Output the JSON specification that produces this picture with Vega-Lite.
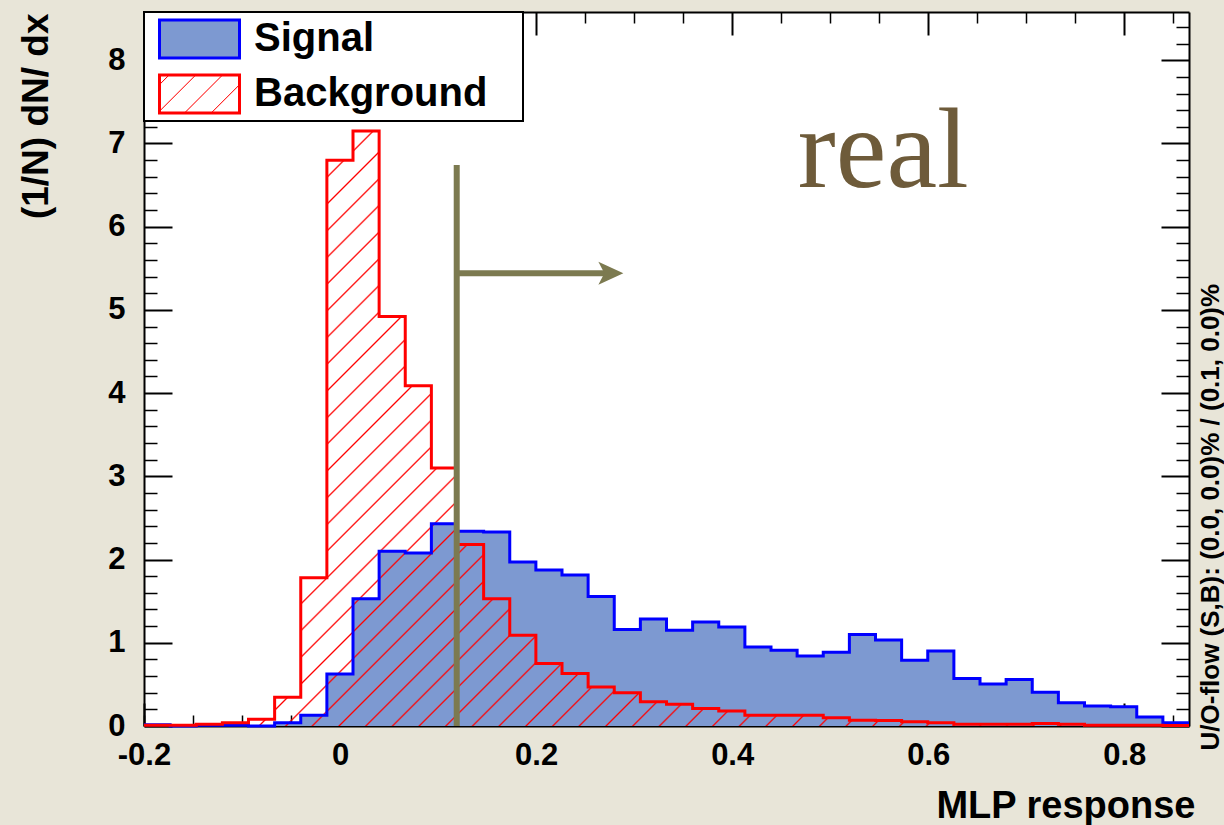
{
"$schema": "https://vega.github.io/schema/vega-lite/v6.json",
"width": 1045,
"height": 714,
"autosize": {"type": "none"},
"padding": {"left": 144, "top": 12, "right": 35, "bottom": 99},
"background": "#e8e5d8",
"data": {"values": [
{"x":-0.2,"sig":0.015,"bkg":0.01},
{"x":-0.17335,"sig":0,"bkg":0.01},
{"x":-0.1467,"sig":0.01,"bkg":0.02},
{"x":-0.12005,"sig":0.01,"bkg":0.04},
{"x":-0.0934,"sig":0,"bkg":0.08},
{"x":-0.06675,"sig":0.04,"bkg":0.345},
{"x":-0.0401,"sig":0.13,"bkg":1.78},
{"x":-0.01345,"sig":0.625,"bkg":6.8},
{"x":0.0132,"sig":1.53,"bkg":7.15},
{"x":0.03985,"sig":2.1,"bkg":4.92},
{"x":0.0665,"sig":2.08,"bkg":4.09},
{"x":0.09315,"sig":2.43,"bkg":3.1},
{"x":0.1198,"sig":2.34,"bkg":2.18},
{"x":0.14645,"sig":2.33,"bkg":1.53},
{"x":0.1731,"sig":1.97,"bkg":1.09},
{"x":0.19975,"sig":1.875,"bkg":0.75},
{"x":0.2264,"sig":1.815,"bkg":0.63},
{"x":0.25305,"sig":1.555,"bkg":0.47},
{"x":0.2797,"sig":1.16,"bkg":0.4},
{"x":0.30635,"sig":1.286,"bkg":0.29},
{"x":0.333,"sig":1.15,"bkg":0.26},
{"x":0.35965,"sig":1.25,"bkg":0.21},
{"x":0.3863,"sig":1.19,"bkg":0.18},
{"x":0.41295,"sig":0.95,"bkg":0.13},
{"x":0.4396,"sig":0.91,"bkg":0.13},
{"x":0.46625,"sig":0.84,"bkg":0.13},
{"x":0.4929,"sig":0.885,"bkg":0.1},
{"x":0.51955,"sig":1.1,"bkg":0.07},
{"x":0.5462,"sig":1.034,"bkg":0.065},
{"x":0.57285,"sig":0.79,"bkg":0.05},
{"x":0.5995,"sig":0.9,"bkg":0.04},
{"x":0.62615,"sig":0.57,"bkg":0.02},
{"x":0.6528,"sig":0.505,"bkg":0.02},
{"x":0.67945,"sig":0.56,"bkg":0.02},
{"x":0.7061,"sig":0.405,"bkg":0.03},
{"x":0.73275,"sig":0.28,"bkg":0.02},
{"x":0.7594,"sig":0.24,"bkg":0.01},
{"x":0.78605,"sig":0.23,"bkg":0.01},
{"x":0.8127,"sig":0.108,"bkg":0.01},
{"x":0.83935,"sig":0.04,"bkg":0.005},
{"x":0.866,"sig":0.04,"bkg":0.005}
]},
"resolve": {"axis": {"x": "independent", "y": "independent"}},
"layer": [
{
"mark": {"type": "area", "interpolate": "step-after", "fill": "#7d99d1", "opacity": 1},
"encoding": {
"x": {"field": "x", "type": "quantitative", "scale": {"domain": [-0.2, 0.866], "nice": false, "zero": false},
 "axis": {"orient": "bottom", "values": [-0.2,0,0.2,0.4,0.6,0.8], "tickSize": -23, "tickWidth": 2, "labelPadding": 37,
  "labelExpr": "datum.value == 0 ? '0' : (datum.value < 0 ? '-' : '') + format(abs(datum.value), '.1f')",
  "title": "MLP response", "titleFontSize": 38, "titleAlign": "right", "titleBaseline": "alphabetic", "titleX": 1051, "titleY": 91, "titleAngle": 0}},
"y": {"field": "sig", "type": "quantitative", "scale": {"domain": [0, 8.58], "nice": false},
 "axis": {"orient": "left", "values": [0,1,2,3,4,5,6,7,8], "tickSize": -28, "tickWidth": 2, "labelPadding": 47,
  "title": "(1/N) dN/ dx", "titleFontSize": 37, "titleAngle": 270, "titleAlign": "right", "titleBaseline": "middle", "titleX": -108, "titleY": 1}}
}
},
{
"mark": {"type": "area", "interpolate": "step-after", "opacity": 1,
 "fill": {"gradient": "linear", "x1": 0, "y1": 0, "x2": 1.1852, "y2": 0.6748, "stops": [
 {"offset":0,"color":"rgba(255,0,0,0)"},
 {"offset":0.0085,"color":"rgba(255,0,0,0)"},{"offset":0.0096,"color":"#ff0000"},{"offset":0.0107,"color":"rgba(255,0,0,0)"},
 {"offset":0.0248,"color":"rgba(255,0,0,0)"},{"offset":0.0259,"color":"#ff0000"},{"offset":0.0270,"color":"rgba(255,0,0,0)"},
 {"offset":0.0411,"color":"rgba(255,0,0,0)"},{"offset":0.0422,"color":"#ff0000"},{"offset":0.0433,"color":"rgba(255,0,0,0)"},
 {"offset":0.0573,"color":"rgba(255,0,0,0)"},{"offset":0.0584,"color":"#ff0000"},{"offset":0.0595,"color":"rgba(255,0,0,0)"},
 {"offset":0.0736,"color":"rgba(255,0,0,0)"},{"offset":0.0747,"color":"#ff0000"},{"offset":0.0758,"color":"rgba(255,0,0,0)"},
 {"offset":0.0899,"color":"rgba(255,0,0,0)"},{"offset":0.0910,"color":"#ff0000"},{"offset":0.0921,"color":"rgba(255,0,0,0)"},
 {"offset":0.1062,"color":"rgba(255,0,0,0)"},{"offset":0.1073,"color":"#ff0000"},{"offset":0.1084,"color":"rgba(255,0,0,0)"},
 {"offset":0.1225,"color":"rgba(255,0,0,0)"},{"offset":0.1236,"color":"#ff0000"},{"offset":0.1247,"color":"rgba(255,0,0,0)"},
 {"offset":0.1387,"color":"rgba(255,0,0,0)"},{"offset":0.1398,"color":"#ff0000"},{"offset":0.1409,"color":"rgba(255,0,0,0)"},
 {"offset":0.1550,"color":"rgba(255,0,0,0)"},{"offset":0.1561,"color":"#ff0000"},{"offset":0.1572,"color":"rgba(255,0,0,0)"},
 {"offset":0.1713,"color":"rgba(255,0,0,0)"},{"offset":0.1724,"color":"#ff0000"},{"offset":0.1735,"color":"rgba(255,0,0,0)"},
 {"offset":0.1876,"color":"rgba(255,0,0,0)"},{"offset":0.1887,"color":"#ff0000"},{"offset":0.1898,"color":"rgba(255,0,0,0)"},
 {"offset":0.2039,"color":"rgba(255,0,0,0)"},{"offset":0.2050,"color":"#ff0000"},{"offset":0.2061,"color":"rgba(255,0,0,0)"},
 {"offset":0.2201,"color":"rgba(255,0,0,0)"},{"offset":0.2212,"color":"#ff0000"},{"offset":0.2223,"color":"rgba(255,0,0,0)"},
 {"offset":0.2364,"color":"rgba(255,0,0,0)"},{"offset":0.2375,"color":"#ff0000"},{"offset":0.2386,"color":"rgba(255,0,0,0)"},
 {"offset":0.2527,"color":"rgba(255,0,0,0)"},{"offset":0.2538,"color":"#ff0000"},{"offset":0.2549,"color":"rgba(255,0,0,0)"},
 {"offset":0.2690,"color":"rgba(255,0,0,0)"},{"offset":0.2701,"color":"#ff0000"},{"offset":0.2712,"color":"rgba(255,0,0,0)"},
 {"offset":0.2853,"color":"rgba(255,0,0,0)"},{"offset":0.2864,"color":"#ff0000"},{"offset":0.2875,"color":"rgba(255,0,0,0)"},
 {"offset":0.3015,"color":"rgba(255,0,0,0)"},{"offset":0.3026,"color":"#ff0000"},{"offset":0.3037,"color":"rgba(255,0,0,0)"},
 {"offset":0.3178,"color":"rgba(255,0,0,0)"},{"offset":0.3189,"color":"#ff0000"},{"offset":0.3200,"color":"rgba(255,0,0,0)"},
 {"offset":0.3341,"color":"rgba(255,0,0,0)"},{"offset":0.3352,"color":"#ff0000"},{"offset":0.3363,"color":"rgba(255,0,0,0)"},
 {"offset":0.3504,"color":"rgba(255,0,0,0)"},{"offset":0.3515,"color":"#ff0000"},{"offset":0.3526,"color":"rgba(255,0,0,0)"},
 {"offset":0.3667,"color":"rgba(255,0,0,0)"},{"offset":0.3678,"color":"#ff0000"},{"offset":0.3689,"color":"rgba(255,0,0,0)"},
 {"offset":0.3829,"color":"rgba(255,0,0,0)"},{"offset":0.3840,"color":"#ff0000"},{"offset":0.3851,"color":"rgba(255,0,0,0)"},
 {"offset":0.3992,"color":"rgba(255,0,0,0)"},{"offset":0.4003,"color":"#ff0000"},{"offset":0.4014,"color":"rgba(255,0,0,0)"},
 {"offset":0.4155,"color":"rgba(255,0,0,0)"},{"offset":0.4166,"color":"#ff0000"},{"offset":0.4177,"color":"rgba(255,0,0,0)"},
 {"offset":0.4318,"color":"rgba(255,0,0,0)"},{"offset":0.4329,"color":"#ff0000"},{"offset":0.4340,"color":"rgba(255,0,0,0)"},
 {"offset":0.4481,"color":"rgba(255,0,0,0)"},{"offset":0.4492,"color":"#ff0000"},{"offset":0.4503,"color":"rgba(255,0,0,0)"},
 {"offset":0.4643,"color":"rgba(255,0,0,0)"},{"offset":0.4654,"color":"#ff0000"},{"offset":0.4665,"color":"rgba(255,0,0,0)"},
 {"offset":0.4806,"color":"rgba(255,0,0,0)"},{"offset":0.4817,"color":"#ff0000"},{"offset":0.4828,"color":"rgba(255,0,0,0)"},
 {"offset":0.4969,"color":"rgba(255,0,0,0)"},{"offset":0.4980,"color":"#ff0000"},{"offset":0.4991,"color":"rgba(255,0,0,0)"},
 {"offset":0.5132,"color":"rgba(255,0,0,0)"},{"offset":0.5143,"color":"#ff0000"},{"offset":0.5154,"color":"rgba(255,0,0,0)"},
 {"offset":0.5295,"color":"rgba(255,0,0,0)"},{"offset":0.5306,"color":"#ff0000"},{"offset":0.5317,"color":"rgba(255,0,0,0)"},
 {"offset":0.5457,"color":"rgba(255,0,0,0)"},{"offset":0.5468,"color":"#ff0000"},{"offset":0.5479,"color":"rgba(255,0,0,0)"},
 {"offset":0.5620,"color":"rgba(255,0,0,0)"},{"offset":0.5631,"color":"#ff0000"},{"offset":0.5642,"color":"rgba(255,0,0,0)"},
 {"offset":0.5783,"color":"rgba(255,0,0,0)"},{"offset":0.5794,"color":"#ff0000"},{"offset":0.5805,"color":"rgba(255,0,0,0)"},
 {"offset":0.5946,"color":"rgba(255,0,0,0)"},{"offset":0.5957,"color":"#ff0000"},{"offset":0.5968,"color":"rgba(255,0,0,0)"},
 {"offset":0.6109,"color":"rgba(255,0,0,0)"},{"offset":0.6120,"color":"#ff0000"},{"offset":0.6131,"color":"rgba(255,0,0,0)"},
 {"offset":0.6271,"color":"rgba(255,0,0,0)"},{"offset":0.6282,"color":"#ff0000"},{"offset":0.6293,"color":"rgba(255,0,0,0)"},
 {"offset":0.6434,"color":"rgba(255,0,0,0)"},{"offset":0.6445,"color":"#ff0000"},{"offset":0.6456,"color":"rgba(255,0,0,0)"},
 {"offset":0.6597,"color":"rgba(255,0,0,0)"},{"offset":0.6608,"color":"#ff0000"},{"offset":0.6619,"color":"rgba(255,0,0,0)"},
 {"offset":0.6760,"color":"rgba(255,0,0,0)"},{"offset":0.6771,"color":"#ff0000"},{"offset":0.6782,"color":"rgba(255,0,0,0)"},
 {"offset":0.6923,"color":"rgba(255,0,0,0)"},{"offset":0.6934,"color":"#ff0000"},{"offset":0.6945,"color":"rgba(255,0,0,0)"},
 {"offset":0.7085,"color":"rgba(255,0,0,0)"},{"offset":0.7096,"color":"#ff0000"},{"offset":0.7107,"color":"rgba(255,0,0,0)"},
 {"offset":0.7248,"color":"rgba(255,0,0,0)"},{"offset":0.7259,"color":"#ff0000"},{"offset":0.7270,"color":"rgba(255,0,0,0)"},
 {"offset":0.7411,"color":"rgba(255,0,0,0)"},{"offset":0.7422,"color":"#ff0000"},{"offset":0.7433,"color":"rgba(255,0,0,0)"},
 {"offset":0.7574,"color":"rgba(255,0,0,0)"},{"offset":0.7585,"color":"#ff0000"},{"offset":0.7596,"color":"rgba(255,0,0,0)"},
 {"offset":0.7737,"color":"rgba(255,0,0,0)"},{"offset":0.7748,"color":"#ff0000"},{"offset":0.7759,"color":"rgba(255,0,0,0)"},
 {"offset":0.7899,"color":"rgba(255,0,0,0)"},{"offset":0.7910,"color":"#ff0000"},{"offset":0.7921,"color":"rgba(255,0,0,0)"},
 {"offset":0.8062,"color":"rgba(255,0,0,0)"},{"offset":0.8073,"color":"#ff0000"},{"offset":0.8084,"color":"rgba(255,0,0,0)"},
 {"offset":0.8225,"color":"rgba(255,0,0,0)"},{"offset":0.8236,"color":"#ff0000"},{"offset":0.8247,"color":"rgba(255,0,0,0)"},
 {"offset":0.8388,"color":"rgba(255,0,0,0)"},{"offset":0.8399,"color":"#ff0000"},{"offset":0.8410,"color":"rgba(255,0,0,0)"},
 {"offset":0.8551,"color":"rgba(255,0,0,0)"},{"offset":0.8562,"color":"#ff0000"},{"offset":0.8573,"color":"rgba(255,0,0,0)"},
 {"offset":0.8713,"color":"rgba(255,0,0,0)"},{"offset":0.8724,"color":"#ff0000"},{"offset":0.8735,"color":"rgba(255,0,0,0)"},
 {"offset":0.8876,"color":"rgba(255,0,0,0)"},{"offset":0.8887,"color":"#ff0000"},{"offset":0.8898,"color":"rgba(255,0,0,0)"},
 {"offset":0.9039,"color":"rgba(255,0,0,0)"},{"offset":0.9050,"color":"#ff0000"},{"offset":0.9061,"color":"rgba(255,0,0,0)"},
 {"offset":0.9202,"color":"rgba(255,0,0,0)"},{"offset":0.9213,"color":"#ff0000"},{"offset":0.9224,"color":"rgba(255,0,0,0)"},
 {"offset":0.9365,"color":"rgba(255,0,0,0)"},{"offset":0.9376,"color":"#ff0000"},{"offset":0.9387,"color":"rgba(255,0,0,0)"},
 {"offset":0.9527,"color":"rgba(255,0,0,0)"},{"offset":0.9538,"color":"#ff0000"},{"offset":0.9549,"color":"rgba(255,0,0,0)"},
 {"offset":0.9690,"color":"rgba(255,0,0,0)"},{"offset":0.9701,"color":"#ff0000"},{"offset":0.9712,"color":"rgba(255,0,0,0)"},
 {"offset":0.9853,"color":"rgba(255,0,0,0)"},{"offset":0.9864,"color":"#ff0000"},{"offset":0.9875,"color":"rgba(255,0,0,0)"},
 {"offset":1,"color":"rgba(255,0,0,0)"}
 ]}},
"encoding": {
"x": {"field": "x", "type": "quantitative", "scale": {"domain": [-0.2, 0.866], "nice": false, "zero": false},
 "axis": {"orient": "bottom", "values": [-0.2,-0.15,-0.1,-0.05,0.05,0.1,0.15,0.25,0.3,0.35,0.45,0.5,0.55,0.65,0.7,0.75,0.85], "tickSize": -11, "tickWidth": 1.5, "labels": false, "domain": false, "title": null}},
"y": {"field": "bkg", "type": "quantitative", "scale": {"domain": [0, 8.58], "nice": false},
 "axis": {"orient": "left", "values": [0.2,0.4,0.6,0.8,1.2,1.4,1.6,1.8,2.2,2.4,2.6,2.8,3.2,3.4,3.6,3.8,4.2,4.4,4.6,4.8,5.2,5.4,5.6,5.8,6.2,6.4,6.6,6.8,7.2,7.4,7.6,7.8,8.2,8.4], "tickSize": -13, "tickWidth": 1.5, "labels": false, "domain": false, "title": null}}
}
},
{
"mark": {"type": "line", "interpolate": "step-after", "strokeWidth": 3},
"encoding": {
"x": {"field": "x", "type": "quantitative", "scale": {"domain": [-0.2, 0.866], "nice": false, "zero": false},
 "axis": {"orient": "top", "values": [-0.2,0,0.2,0.4,0.6,0.8], "tickSize": -23, "tickWidth": 2, "labels": false, "title": null}},
"y": {"field": "sig", "type": "quantitative", "scale": {"domain": [0, 8.58], "nice": false},
 "axis": {"orient": "right", "values": [0,1,2,3,4,5,6,7,8], "tickSize": -28, "tickWidth": 2, "labels": false,
  "title": "U/O-flow (S,B): (0.0, 0.0)% / (0.1, 0.0)%", "titleFontSize": 26, "titleAngle": 270, "titleAlign": "left", "titleBaseline": "middle", "titleX": 21, "titleY": 738}},
"stroke": {"datum": "Signal", "type": "nominal",
 "scale": {"domain": ["Signal", "Background"], "range": ["#0000ff", "#ff0000"]},
 "legend": {"orient": "none", "legendX": 0, "legendY": 0, "title": null,
  "symbolType": "M-1,-0.475L1,-0.475L1,0.475L-1,0.475Z", "symbolSize": 6400, "symbolStrokeWidth": 3, "symbolOpacity": 1,
  "symbolOffset": 8, "clipHeight": 42,
  "labelFont": "Liberation Sans", "labelFontSize": 40, "labelFontWeight": "bold", "labelColor": "black", "labelOffset": 13, "labelLimit": 500,
  "labelExpr": "datum.label + '\u2800'",
  "rowPadding": 13, "padding": 6, "fillColor": "white", "strokeColor": "black",
  "encoding": {
   "symbols": {"fill": {"condition": {"test": "datum.value === 'Background'", "value": {"gradient": "linear", "x1": 0, "y1": 0, "x2": 1.2034, "y2": 0.5716, "stops": [
     {"offset":0,"color":"rgba(255,0,0,0)"},
     {"offset":0.072,"color":"rgba(255,0,0,0)"},{"offset":0.081,"color":"#ff0000"},{"offset":0.090,"color":"rgba(255,0,0,0)"},
     {"offset":0.298,"color":"rgba(255,0,0,0)"},{"offset":0.307,"color":"#ff0000"},{"offset":0.316,"color":"rgba(255,0,0,0)"},
     {"offset":0.525,"color":"rgba(255,0,0,0)"},{"offset":0.534,"color":"#ff0000"},{"offset":0.543,"color":"rgba(255,0,0,0)"},
     {"offset":0.751,"color":"rgba(255,0,0,0)"},{"offset":0.760,"color":"#ff0000"},{"offset":0.769,"color":"rgba(255,0,0,0)"},
     {"offset":0.978,"color":"rgba(255,0,0,0)"},{"offset":0.987,"color":"#ff0000"},{"offset":0.996,"color":"rgba(255,0,0,0)"},
     {"offset":1,"color":"rgba(255,0,0,0)"}]}}, "value": "#7d99d1"}},
   "legend": {"strokeWidth": {"value": 2}}
  }}}
}
},
{
"mark": {"type": "line", "interpolate": "step-after", "strokeWidth": 3},
"encoding": {
"x": {"field": "x", "type": "quantitative", "scale": {"domain": [-0.2, 0.866], "nice": false, "zero": false},
 "axis": {"orient": "top", "values": [-0.2,-0.15,-0.1,-0.05,0.05,0.1,0.15,0.25,0.3,0.35,0.45,0.5,0.55,0.65,0.7,0.75,0.85], "tickSize": -11, "tickWidth": 1.5, "labels": false, "domain": false, "title": null}},
"y": {"field": "bkg", "type": "quantitative", "scale": {"domain": [0, 8.58], "nice": false},
 "axis": {"orient": "right", "values": [0.2,0.4,0.6,0.8,1.2,1.4,1.6,1.8,2.2,2.4,2.6,2.8,3.2,3.4,3.6,3.8,4.2,4.4,4.6,4.8,5.2,5.4,5.6,5.8,6.2,6.4,6.6,6.8,7.2,7.4,7.6,7.8,8.2,8.4], "tickSize": -13, "tickWidth": 1.5, "labels": false, "domain": false, "title": null}},
"stroke": {"datum": "Background", "type": "nominal"}
}
},
{
"data": {"values": [{"x": 0.119, "y": 0, "y2": 6.74}]},
"mark": {"type": "rule", "color": "#7c7a50", "strokeWidth": 6},
"encoding": {
"x": {"field": "x", "type": "quantitative", "axis": null},
"y": {"field": "y", "type": "quantitative", "axis": null},
"y2": {"field": "y2"}
}
},
{
"data": {"values": [{"x": 0.119, "x2": 0.272, "y": 5.44}]},
"mark": {"type": "rule", "color": "#7c7a50", "strokeWidth": 6},
"encoding": {
"x": {"field": "x", "type": "quantitative", "axis": null},
"x2": {"field": "x2"},
"y": {"field": "y", "type": "quantitative", "axis": null}
}
},
{
"data": {"values": [{"x": 0.289, "y": 5.44}]},
"mark": {"type": "point", "shape": "M0,0L-1,-0.46L-0.76,0L-1,0.46Z", "size": 2500, "filled": true, "fill": "#7c7a50", "strokeWidth": 0, "opacity": 1},
"encoding": {
"x": {"field": "x", "type": "quantitative", "axis": null},
"y": {"field": "y", "type": "quantitative", "axis": null}
}
},
{
"data": {"values": [{"x": 0.467, "y": 6.477, "label": "real"}]},
"mark": {"type": "text", "font": "Liberation Serif", "fontSize": 114, "color": "#6e5b3a", "align": "left", "baseline": "alphabetic"},
"encoding": {
"x": {"field": "x", "type": "quantitative", "axis": null},
"y": {"field": "y", "type": "quantitative", "axis": null},
"text": {"field": "label"}
}
}
],
"config": {
"view": {"fill": "white", "stroke": null},
"axis": {"grid": false, "labelFont": "Liberation Sans", "labelFontSize": 31, "labelFontWeight": "bold", "labelColor": "black",
 "tickColor": "black", "domainColor": "black", "domainWidth": 2, "titleFont": "Liberation Sans", "titleFontWeight": "bold", "titleColor": "black",
 "labelFlush": false, "labelOverlap": false, "zindex": 1}
}
}
